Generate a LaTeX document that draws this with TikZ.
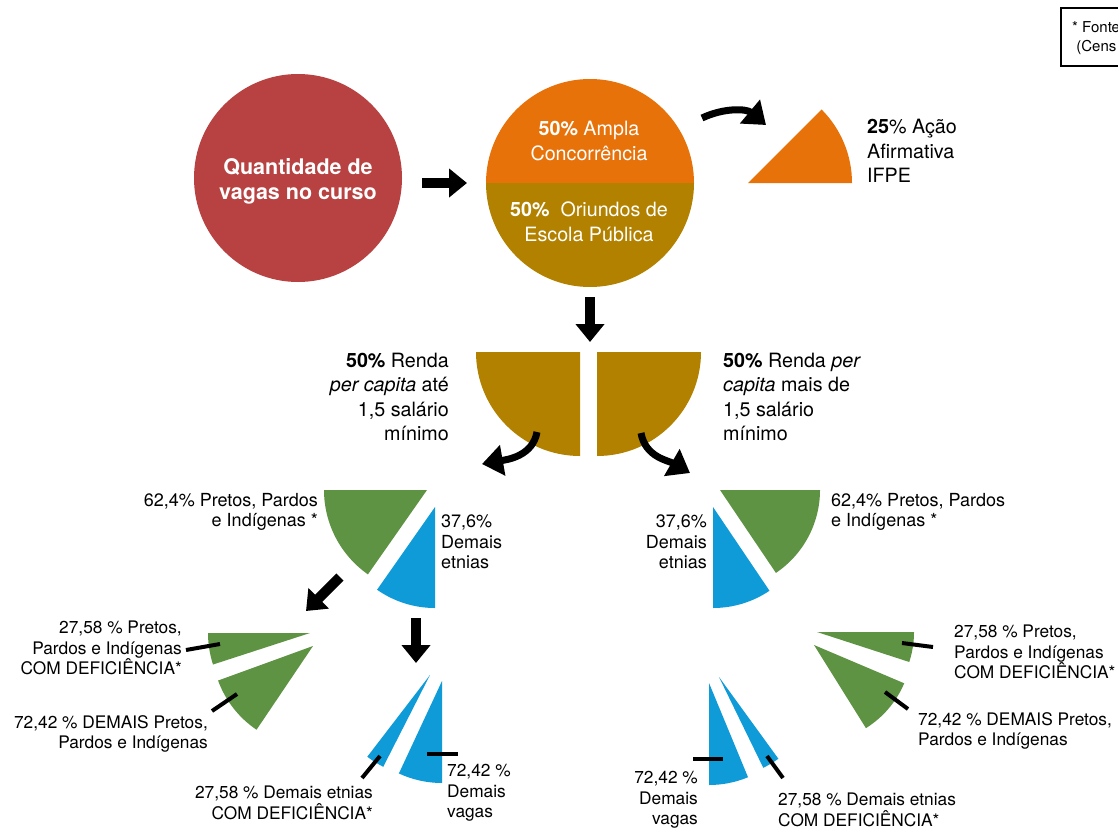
\documentclass[tikz,border=0pt]{standalone}
\usepackage{fontspec}
\setmainfont{TeX Gyre Heros}
\usetikzlibrary{arrows.meta}

\definecolor{vagas}{HTML}{B84242}
\definecolor{ampla}{HTML}{E8720A}
\definecolor{publica}{HTML}{B38100}
\definecolor{ppi}{HTML}{5E9343}
\definecolor{demais}{HTML}{0E9BD7}

\begin{document}
\begin{tikzpicture}[x=1pt,y=1pt,yscale=-1,
    seta/.style={line width=10pt,-{Triangle[width=28pt,length=18pt]}},
    curva/.style={line width=7pt,-{Triangle[width=30pt,length=21pt]}},
    traco/.style={line width=4pt},
    txt/.style={inner sep=0pt,font=\fontsize{17.3}{20.7}\selectfont},
    txtm/.style={inner sep=0pt,font=\fontsize{18}{20.5}\selectfont},
    txtg/.style={inner sep=0pt,font=\fontsize{19.7}{24.5}\selectfont},
    txtp/.style={inner sep=0pt,font=\fontsize{15}{19}\selectfont}]
    \useasboundingbox (0,0) rectangle (1118,830);
    \fill[white] (0,0) rectangle (1118,830);

    \coordinate (V) at (298,178);
    \coordinate (C) at (590,183);
    \coordinate (AF) at (748,183);
    \coordinate (RL) at (580,352);
    \coordinate (RR) at (597,352);
    \coordinate (PL) at (427,490);
    \coordinate (EL) at (435,507);
    \coordinate (PR) at (720,490);
    \coordinate (ER) at (713,507);
    \coordinate (PLa) at (310,633);
    \coordinate (PLb) at (313,646);
    \coordinate (ELa) at (430,675);
    \coordinate (ELb) at (442,681);
    \coordinate (PRa) at (817,632);
    \coordinate (PRb) at (814,645);
    \coordinate (ERa) at (709,683);
    \coordinate (ERb) at (719,677);

    % circles and wedges
    \fill[vagas] (V) circle[radius=104];
    \fill[ampla] (C) ++(104,0) arc[start angle=0, end angle=-180, radius=104] -- cycle;
    \fill[publica] (C) ++(104,0) arc[start angle=0, end angle=180, radius=104] -- cycle;
    \fill[ampla] (AF) -- ++(-45:104) arc[start angle=-45, end angle=0, radius=104] -- cycle;

    \fill[publica] (RL) -- ++(90:104) arc[start angle=90, end angle=180, radius=104] -- cycle;
    \fill[publica] (RR) -- ++(0:104) arc[start angle=0, end angle=90, radius=104] -- cycle;

    \fill[ppi] (PL) -- ++(125:103) arc[start angle=125, end angle=180, radius=103] -- cycle;
    \fill[demais] (EL) -- ++(90:101) arc[start angle=90, end angle=125, radius=101] -- cycle;
    \fill[ppi] (PR) -- ++(0:100) arc[start angle=0, end angle=56, radius=100] -- cycle;
    \fill[demais] (ER) -- ++(56:101) arc[start angle=56, end angle=90, radius=101] -- cycle;

    \fill[ppi] (PLa) -- ++(162:102) arc[start angle=162, end angle=180, radius=102] -- cycle;
    \fill[ppi] (PLb) -- ++(124:101) arc[start angle=124, end angle=160, radius=101] -- cycle;
    \fill[demais] (ELa) -- ++(117:103) arc[start angle=117, end angle=127.5, radius=103] -- cycle;
    \fill[demais] (ELb) -- ++(90:102) arc[start angle=90, end angle=115, radius=102] -- cycle;
    \fill[ppi] (PRa) -- ++(0:97) arc[start angle=0, end angle=18, radius=97] -- cycle;
    \fill[ppi] (PRb) -- ++(23:98) arc[start angle=23, end angle=58, radius=98] -- cycle;
    \fill[demais] (ERa) -- ++(67.5:102) arc[start angle=67.5, end angle=90, radius=102] -- cycle;
    \fill[demais] (ERb) -- ++(54:101) arc[start angle=54, end angle=64, radius=101] -- cycle;

    % arrows
    \coordinate (A1) at (422,183);
    \coordinate (B1) at (467,183);
    \coordinate (A2) at (590,297);
    \coordinate (B2) at (590,342);
    \coordinate (A3) at (702,118);
    \coordinate (B3) at (766,125);
    \coordinate (A4) at (537,432);
    \coordinate (B4) at (482,464);
    \coordinate (A5) at (641,433);
    \coordinate (B5) at (690,473);
    \coordinate (A6) at (340,577);
    \coordinate (B6) at (306,611);
    \coordinate (A7) at (416,618);
    \coordinate (B7) at (416,663);

    \draw[seta] (A1) -- (B1);
    \draw[seta] (A2) -- (B2);
    \draw[curva] (A3) to[out=-25, in=-140] (B3);
    \draw[curva] (A4) to[out=100, in=-10] (B4);
    \draw[curva] (A5) to[out=80, in=210] (B5);
    \draw[seta] (A6) -- (B6);
    \draw[seta] (A7) -- (B7);

    % leader lines
    \draw[traco] (186,650) -- (220,644);
    \draw[traco] (212,711) -- (237,694);
    \draw[traco] (362,778) -- (380,756);
    \draw[traco] (427,754) -- (458,754);
    \draw[traco] (902,643) -- (933,647);
    \draw[traco] (885,692) -- (908,709);
    \draw[traco] (693,759) -- (723,759);
    \draw[traco] (767,756) -- (783,778);

    % source box
    \draw[line width=2pt] (1061,8) rectangle (1140,66);

    % labels
    \node[text=white, align=center, inner sep=0pt, font=\fontsize{21.5}{25}\selectfont\bfseries] (vagas) at (298,181) {Quantidade de\\vagas no curso};
    \node[txtg, text=white, align=center] (ampla) at (589,141) {\textbf{50\%} Ampla\\Concorrência};
    \node[txtg, text=white, align=center] (publica) at (589,222) {\textbf{50\%}\ \ Oriundos de\\Escola Pública};
    \node[txtg, anchor=west, align=left] (afirm) at (867,151) {\textbf{25}\% Ação\\Afirmativa\\IFPE};
    \node[txtp, anchor=west, align=left] (fonte) at (1072,38) {* Fonte\\\ (Cens};

    \node[txtg, anchor=east, align=right] (rendaL) at (449,397) {\textbf{50\%} Renda\\\textit{per capita} até\\1,5 salário\\mínimo};
    \node[txtg, anchor=west, align=left] (rendaR) at (723,397) {\textbf{50\%} Renda \textit{per}\\\textit{capita} mais de\\1,5 salário\\mínimo};

    \node[txtm, anchor=east, align=right] (ppiL) at (318,512) {62,4\% Pretos, Pardos\\e Indígenas *};
    \node[txtm, anchor=west, align=left] (etnL) at (441,542) {37,6\%\\Demais\\etnias};
    \node[txtm, anchor=west, align=left] (ppiR) at (831,512) {62,4\% Pretos, Pardos\\e Indígenas *};
    \node[txtm, anchor=east, align=right] (etnR) at (707,542) {37,6\%\\Demais\\etnias};

    \node[txt, anchor=east, align=right] (pcdL) at (182,648) {27,58 \% Pretos,\\Pardos e Indígenas\\COM DEFICIÊNCIA*};
    \node[txt, anchor=east, align=right] (demL) at (208,734) {72,42 \% DEMAIS Pretos,\\Pardos e Indígenas};
    \node[txt, anchor=east, align=right] (epcdL) at (373,803) {27,58 \% Demais etnias\\COM DEFICIÊNCIA*};
    \node[txt, anchor=west, align=left] (dvL) at (447,793) {72,42 \%\\Demais\\vagas};
    \node[txt, anchor=west, align=left] (pcdR) at (954,652) {27,58 \% Pretos,\\Pardos e Indígenas\\COM DEFICIÊNCIA*};
    \node[txt, anchor=west, align=left] (demR) at (918,731) {72,42 \% DEMAIS Pretos,\\Pardos e Indígenas};
    \node[txt, anchor=east, align=right] (dvR) at (698,800) {72,42 \%\\Demais\\vagas};
    \node[txt, anchor=west, align=left] (epcdR) at (778,810) {27,58 \% Demais etnias\\COM DEFICIÊNCIA*};
\end{tikzpicture}
\end{document}
